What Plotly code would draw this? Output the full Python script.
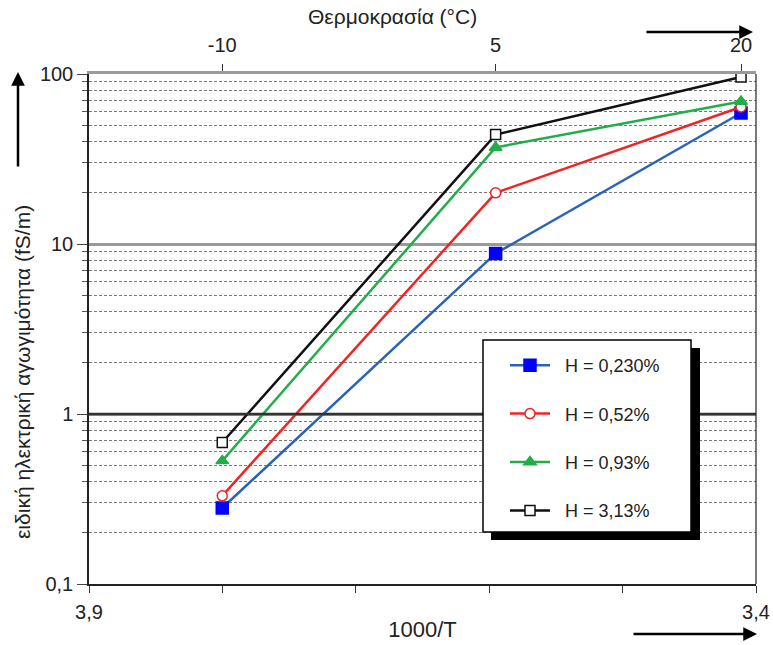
import plotly.graph_objects as go

temps_c = [-10, 5, 20]
inv_T = [1000.0 / (t + 273.15) for t in temps_c]

series_names = ["H = 0,230%", "H = 0,52%", "H = 0,93%", "H = 3,13%"]
h0230 = [0.28, 8.8, 59]
h052 = [0.33, 20, 64]
h093 = [0.53, 37, 69]
h313 = [0.68, 44, 96]
series_vals = [h0230, h052, h093, h313]

line_colors = ["#2a62b8", "#f02424", "#22ad48", "#111111"]
marker_fill = ["#0000ff", "#ffffff", "#22ad48", "#ffffff"]
marker_line = ["#0000ff", "#f02424", "#22ad48", "#111111"]
marker_sym = ["square", "circle", "triangle-up", "square"]
marker_size = [12, 10, 11, 10]

x_ticks = [3.9, 3.8, 3.7, 3.6, 3.5, 3.4]
x_ticktext = ["3,9", "", "", "", "", "3,4"]
y_ticks = [0.1, 1, 10, 100]
y_ticktext = ["0,1", "1", "10", "100"]
y_minor = [m * d for d in [0.1, 1, 10] for m in range(2, 10)]

W, H = 773, 645
L, R, T, B = 89, 17, 74, 61
pw, ph = W - L - R, H - T - B


def px(x):
    return (x - L) / pw


def py(y):
    return (H - B - y) / ph


FONT = "Liberation Sans, Arial, sans-serif"
PAD = "\u00a0\u00a0"

fig = go.Figure()
for i, name in enumerate(series_names):
    fig.add_trace(go.Scatter(
        x=inv_T, y=series_vals[i], name=PAD + name, mode="lines+markers",
        legendgroup="g%d" % i,
        line=dict(color=line_colors[i], width=2.5),
        marker=dict(symbol=marker_sym[i], size=marker_size[i], color=marker_fill[i],
                    line=dict(color=marker_line[i], width=1.5)),
    ))

# invisible companion so the temperature axis (top) is drawn
fig.add_trace(go.Scatter(x=inv_T, y=h313, xaxis="x2", mode="markers",
                         marker=dict(opacity=0), showlegend=False, hoverinfo="skip"))

shapes = [
    dict(type="line", xref="paper", x0=0, x1=1, yref="y", y0=1, y1=1,
         line=dict(color="#333333", width=2.5), layer="above"),
    dict(type="line", xref="paper", x0=1, x1=1, yref="paper", y0=0, y1=1,
         line=dict(color="#222222", width=1.2), layer="above"),
    dict(type="rect", xref="paper", yref="paper", x0=px(491), x1=px(700), y0=py(540), y1=py(348),
         fillcolor="#000000", line=dict(width=0), layer="above"),
    dict(type="rect", xref="paper", yref="paper", x0=px(483), x1=px(691), y0=py(532), y1=py(340),
         fillcolor="#ffffff", line=dict(color="#000000", width=1.5), layer="above"),
]

annotations = [
    dict(xref="paper", yref="paper", x=px(753), y=py(32), ax=-108, ay=0, text="",
         showarrow=True, arrowhead=2, arrowsize=1.1, arrowwidth=2.5, arrowcolor="#000"),
    dict(xref="paper", yref="paper", x=px(757), y=py(634), ax=-125, ay=0, text="",
         showarrow=True, arrowhead=2, arrowsize=1.1, arrowwidth=2.5, arrowcolor="#000"),
    dict(xref="paper", yref="paper", x=px(18), y=py(72), ax=0, ay=96, text="",
         showarrow=True, arrowhead=2, arrowsize=1.1, arrowwidth=2.5, arrowcolor="#000"),
    dict(xref="paper", yref="paper", x=px(23), y=py(372), text="ειδική ηλεκτρική αγωγιμότητα (fS/m)",
         textangle=-90, showarrow=False, font=dict(family=FONT, size=21, color="#222"),
         xanchor="center", yanchor="middle"),
    dict(xref="paper", yref="paper", x=px(392), y=py(17), text="Θερμοκρασία (°C)",
         showarrow=False, font=dict(family=FONT, size=21, color="#222"),
         xanchor="center", yanchor="middle"),
]

fig.update_layout(
    width=W, height=H,
    margin=dict(l=L, r=R, t=T, b=B),
    paper_bgcolor="white", plot_bgcolor="white",
    font=dict(family=FONT, size=20, color="#222222"),
    showlegend=True,
    legend=dict(x=px(505), y=py(347), xanchor="left", yanchor="top",
                bgcolor="rgba(0,0,0,0)", borderwidth=0,
                font=dict(family=FONT, size=18, color="#222"),
                itemwidth=40, tracegroupgap=22),
    xaxis=dict(range=[3.9, 3.4], tickvals=x_ticks, ticktext=x_ticktext,
               showline=True, linecolor="#222", linewidth=1.5,
               ticks="outside", ticklen=7, tickcolor="#333", tickwidth=1.2,
               ticklabelstandoff=2, automargin=False,
               showgrid=False, zeroline=False,
               title=dict(text="1000/T", font=dict(size=22), standoff=0)),
    xaxis2=dict(range=[3.9, 3.4], overlaying="x", side="top", anchor="y",
                tickvals=inv_T, ticktext=[str(t) for t in temps_c],
                showline=True, linecolor="#9a9a9a", linewidth=2.5,
                ticks="outside", ticklen=7, tickcolor="#333", tickwidth=1.2,
                ticklabelstandoff=4, automargin=False,
                showgrid=False, zeroline=False),
    yaxis=dict(type="log", range=[-1, 2], tickvals=y_ticks, ticktext=y_ticktext,
               showline=True, linecolor="#222", linewidth=1.5, automargin=False,
               ticks="outside", ticklen=10, tickcolor="#444", tickwidth=1.2,
               showgrid=True, gridcolor="#9a9a9a", gridwidth=2.5, zeroline=False,
               minor=dict(tickvals=y_minor, ticks="outside", ticklen=5, tickcolor="#555",
                          showgrid=True, gridcolor="#7a7a7a", gridwidth=1, griddash="3px,2px")),
    shapes=shapes, annotations=annotations,
)

fig.write_html("out.html")
